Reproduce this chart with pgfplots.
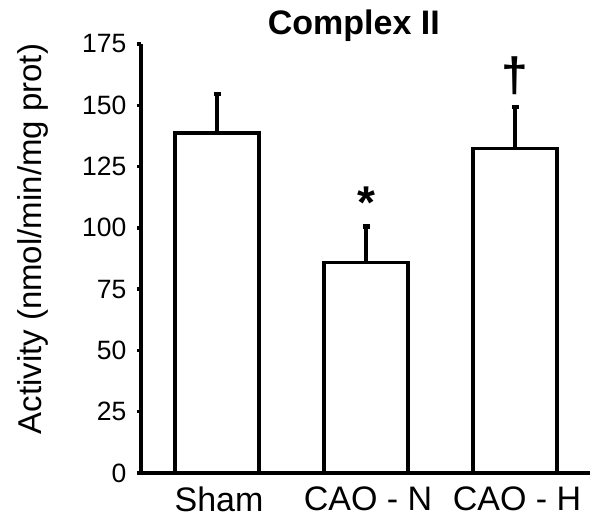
\documentclass[border=0pt]{standalone}
\usepackage{fontspec}
\setmainfont{Liberation Sans}
\usepackage{pgfplots}
\pgfplotsset{compat=1.18}
\begin{document}
\begin{tikzpicture}
\begin{axis}[
  name=ax,
  scale only axis, width=449pt, height=429pt,
  xmin=-0.51, xmax=2.503, ymin=0, ymax=175,
  ytick={0,25,...,175},
  xtick={0,1,2}, xticklabels={Sham, CAO - N, CAO - H},
  axis x line*=bottom, axis y line*=left,
  axis line style={line width=3.5pt, -},
  x tick style={draw=none},
  y tick style={line width=3.5pt, black},
  tick align=outside, major tick length=4pt,
  /pgf/number format/assume math mode=true,
  yticklabel style={font=\fontsize{26.5}{28}\selectfont, anchor=east, xshift=-7pt},
  xticklabel style={font=\fontsize{34}{36}\selectfont, anchor=north, yshift=-6pt, xshift=2pt},
  ylabel={Activity (nmol/min/mg prot)},
  ylabel style={font=\fontsize{33}{36}\selectfont, at={(axis description cs:-0.2405,0.545)},
    anchor=center},
  title={Complex II},
  title style={font=\fontsize{34}{36}\selectfont\bfseries, at={(axis description cs:0.474,1)},
    anchor=base, yshift=4pt},
  clip=false,
]
\addplot[ybar, bar width=0.564, fill=white, draw=black, line width=3.5pt,
  error bars/.cd, y dir=plus, y explicit,
  error mark=-,
  error bar style={line width=3.5pt, black},
  error mark options={rotate=90, line width=4.5pt, mark size=3.5pt, black}]
  coordinates {
    (0,138.6) +- (0,16)
    (1,85.9)  +- (0,14.7)
    (2,132.4) +- (0,16.8)
  };
\node[anchor=north, inner sep=0pt, font=\fontsize{46}{46}\selectfont\bfseries] at (axis cs:1,116.7) {*};
\node[anchor=north, inner sep=0pt, font=\fontsize{48}{48}\selectfont\bfseries] at (axis cs:2,169.8) {†};
\end{axis}
\pgfresetboundingbox
\path[use as bounding box] ([xshift=-141pt,yshift=-50pt]ax.south west) rectangle ++(599pt,523pt);
\end{tikzpicture}
\end{document}
